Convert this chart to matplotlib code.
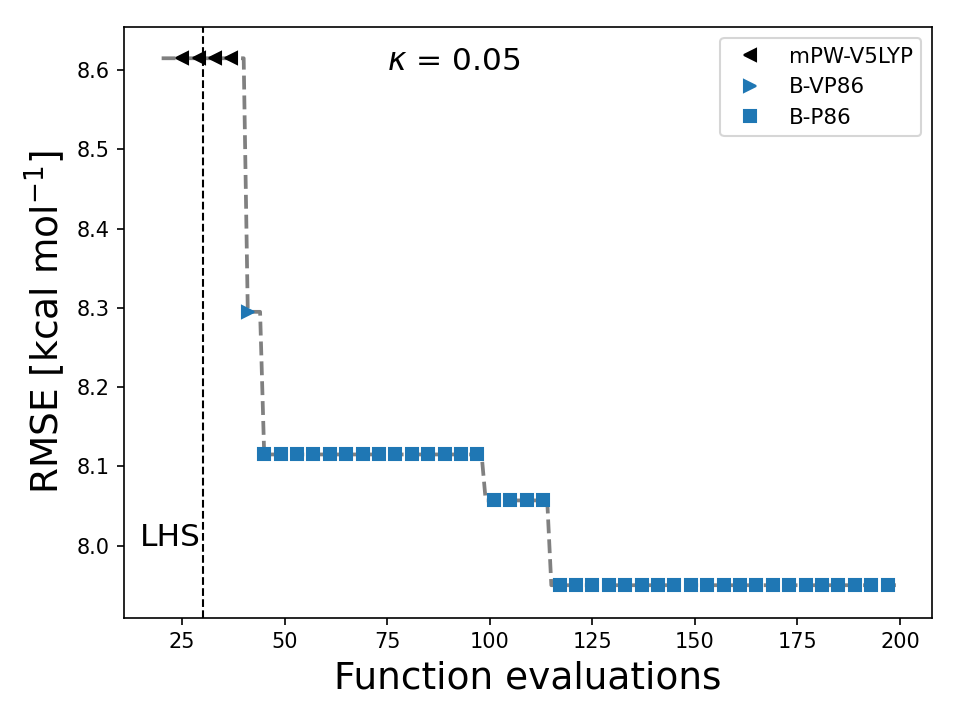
import numpy as np
import matplotlib
matplotlib.use("Agg")
import matplotlib.pyplot as plt

# evaluation range and the best-so-far RMSE steps
evals = np.arange(20, 200)
step_start = [20, 41, 45, 99, 115]
step_rmse = [8.615, 8.295, 8.115, 8.057, 7.950]

# evaluations where the chosen functional is marked
mpw_x = [25, 29, 33, 37]
bvp_x = [41]
bp_x = list(range(45, 198, 4))

lhs_end = 30
kappa = 0.05

best = np.array(step_rmse)[np.searchsorted(step_start, evals, side="right") - 1]


def best_at(xs):
    return best[np.searchsorted(evals, xs)]


fig, ax = plt.subplots(figsize=(6.4, 4.8), dpi=150)
ax.plot(evals, best, "--", color="gray", lw=1.8)
ax.plot(mpw_x, best_at(mpw_x), "<", color="k", ls="none", label="mPW-V5LYP")
ax.plot(bvp_x, best_at(bvp_x), ">", color="C0", ls="none", label="B-VP86")
ax.plot(bp_x, best_at(bp_x), "s", color="C0", ls="none", label="B-P86")

ax.axvline(lhs_end, color="k", ls="--", lw=1)
ax.text(lhs_end - 0.4, 8.01, "LHS", ha="right", va="center", fontsize=15)
ax.text(75, 8.6, r"$\kappa$ = {}".format(kappa), fontsize=15)

ax.set_xlim(10.9, 207.8)
ax.set_ylim(7.909, 8.654)
ax.set_xlabel("Function evaluations", fontsize=18)
ax.set_ylabel(r"RMSE [kcal mol$^{-1}$]", fontsize=18)
ax.legend(loc="upper right", fontsize=10.25)

fig.subplots_adjust(left=0.1295, right=0.9708, bottom=0.1421, top=0.962)
fig.savefig("out.png")
